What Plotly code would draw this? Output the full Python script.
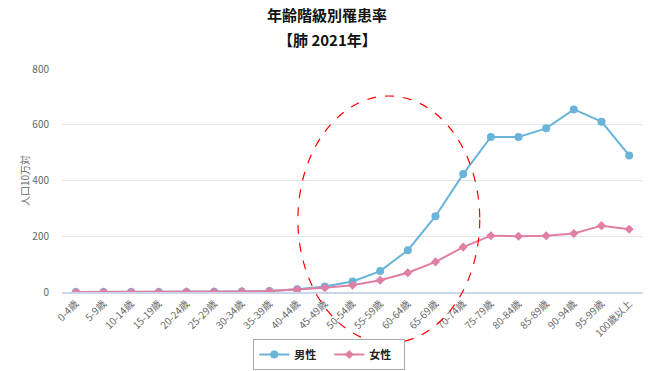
import plotly.graph_objects as go

categories = ["0-4歳", "5-9歳", "10-14歳", "15-19歳", "20-24歳", "25-29歳", "30-34歳",
              "35-39歳", "40-44歳", "45-49歳", "50-54歳", "55-59歳", "60-64歳", "65-69歳",
              "70-74歳", "75-79歳", "80-84歳", "85-89歳", "90-94歳", "95-99歳", "100歳以上"]
male = [0.0, 0.0, 0.1, 0.2, 0.4, 0.8, 1.8, 3.5, 9.5, 19.5, 38, 75, 150, 272,
        423, 556, 556, 587, 655, 611, 490]
female = [0.0, 0.0, 0.1, 0.2, 0.4, 0.9, 1.6, 3.2, 8.0, 15.5, 24, 42, 69, 108,
          161, 202, 200, 202, 210, 238, 225]
title_lines = ["年齢階級別罹患率", "【肺 2021年】"]

font_family = "Noto Sans CJK JP, Noto Sans, sans-serif"

fig = go.Figure()
fig.add_trace(go.Scatter(
    x=categories, y=male, name="男性", mode="lines+markers",
    line=dict(color="#6ab4da", width=2),
    marker=dict(symbol="circle", size=8, color="#6ab4da"),
))
fig.add_trace(go.Scatter(
    x=categories, y=female, name="女性", mode="lines+markers",
    line=dict(color="#e07ea3", width=2),
    marker=dict(symbol="diamond", size=7, color="#e07ea3"),
))

fig.add_shape(type="circle", xref="paper", yref="paper",
              x0=0.406, x1=0.719, y0=-0.229, y1=0.879,
              line=dict(color="red", width=1.2, dash="dash"))

for i, t in enumerate(title_lines):
    fig.add_annotation(text="<b>" + t + "</b>", xref="paper", yref="paper",
                       x=(327 - 62) / 581, y=(292 - (15 + 24 * i)) / 223,
                       xanchor="center", yanchor="middle",
                       showarrow=False,
                       font=dict(size=15, color="#111111", family=font_family))

fig.update_layout(
    width=652, height=371,
    margin=dict(l=62, r=9, t=69, b=79, autoexpand=False),
    paper_bgcolor="white", plot_bgcolor="white",
    font=dict(family=font_family, color="#666666", size=10),
    showlegend=True,
    legend=dict(orientation="h", xref="container", yref="container",
                x=0.505, xanchor="center", y=1 - 339 / 371, yanchor="top",
                bordercolor="#aaaaaa", borderwidth=1,
                font=dict(size=11, color="#222222", family=font_family, weight="bold"),
                itemwidth=30, tracegroupgap=0, entrywidth=30, entrywidthmode="pixels"),
)
fig.update_xaxes(
    type="category", range=[-0.5, len(categories) - 0.5],
    tickangle=-45, showgrid=False, automargin=False,
    showline=True, linecolor="#ccd6eb", linewidth=2,
    tickfont=dict(size=10, color="#666666"),
    ticks="", zeroline=False,
)
fig.update_yaxes(
    range=[0, 800], tickvals=[0, 200, 400, 600, 800], automargin=False,
    showgrid=True, gridcolor="#e6e6e6", gridwidth=1,
    zeroline=False, showline=False,
    ticks="outside", ticklen=10, tickcolor="rgba(0,0,0,0)",
    tickfont=dict(size=10, color="#666666"),
    title=dict(text="人口10万対", font=dict(size=10, color="#666666"), standoff=0),
)

fig.write_html("out.html")
